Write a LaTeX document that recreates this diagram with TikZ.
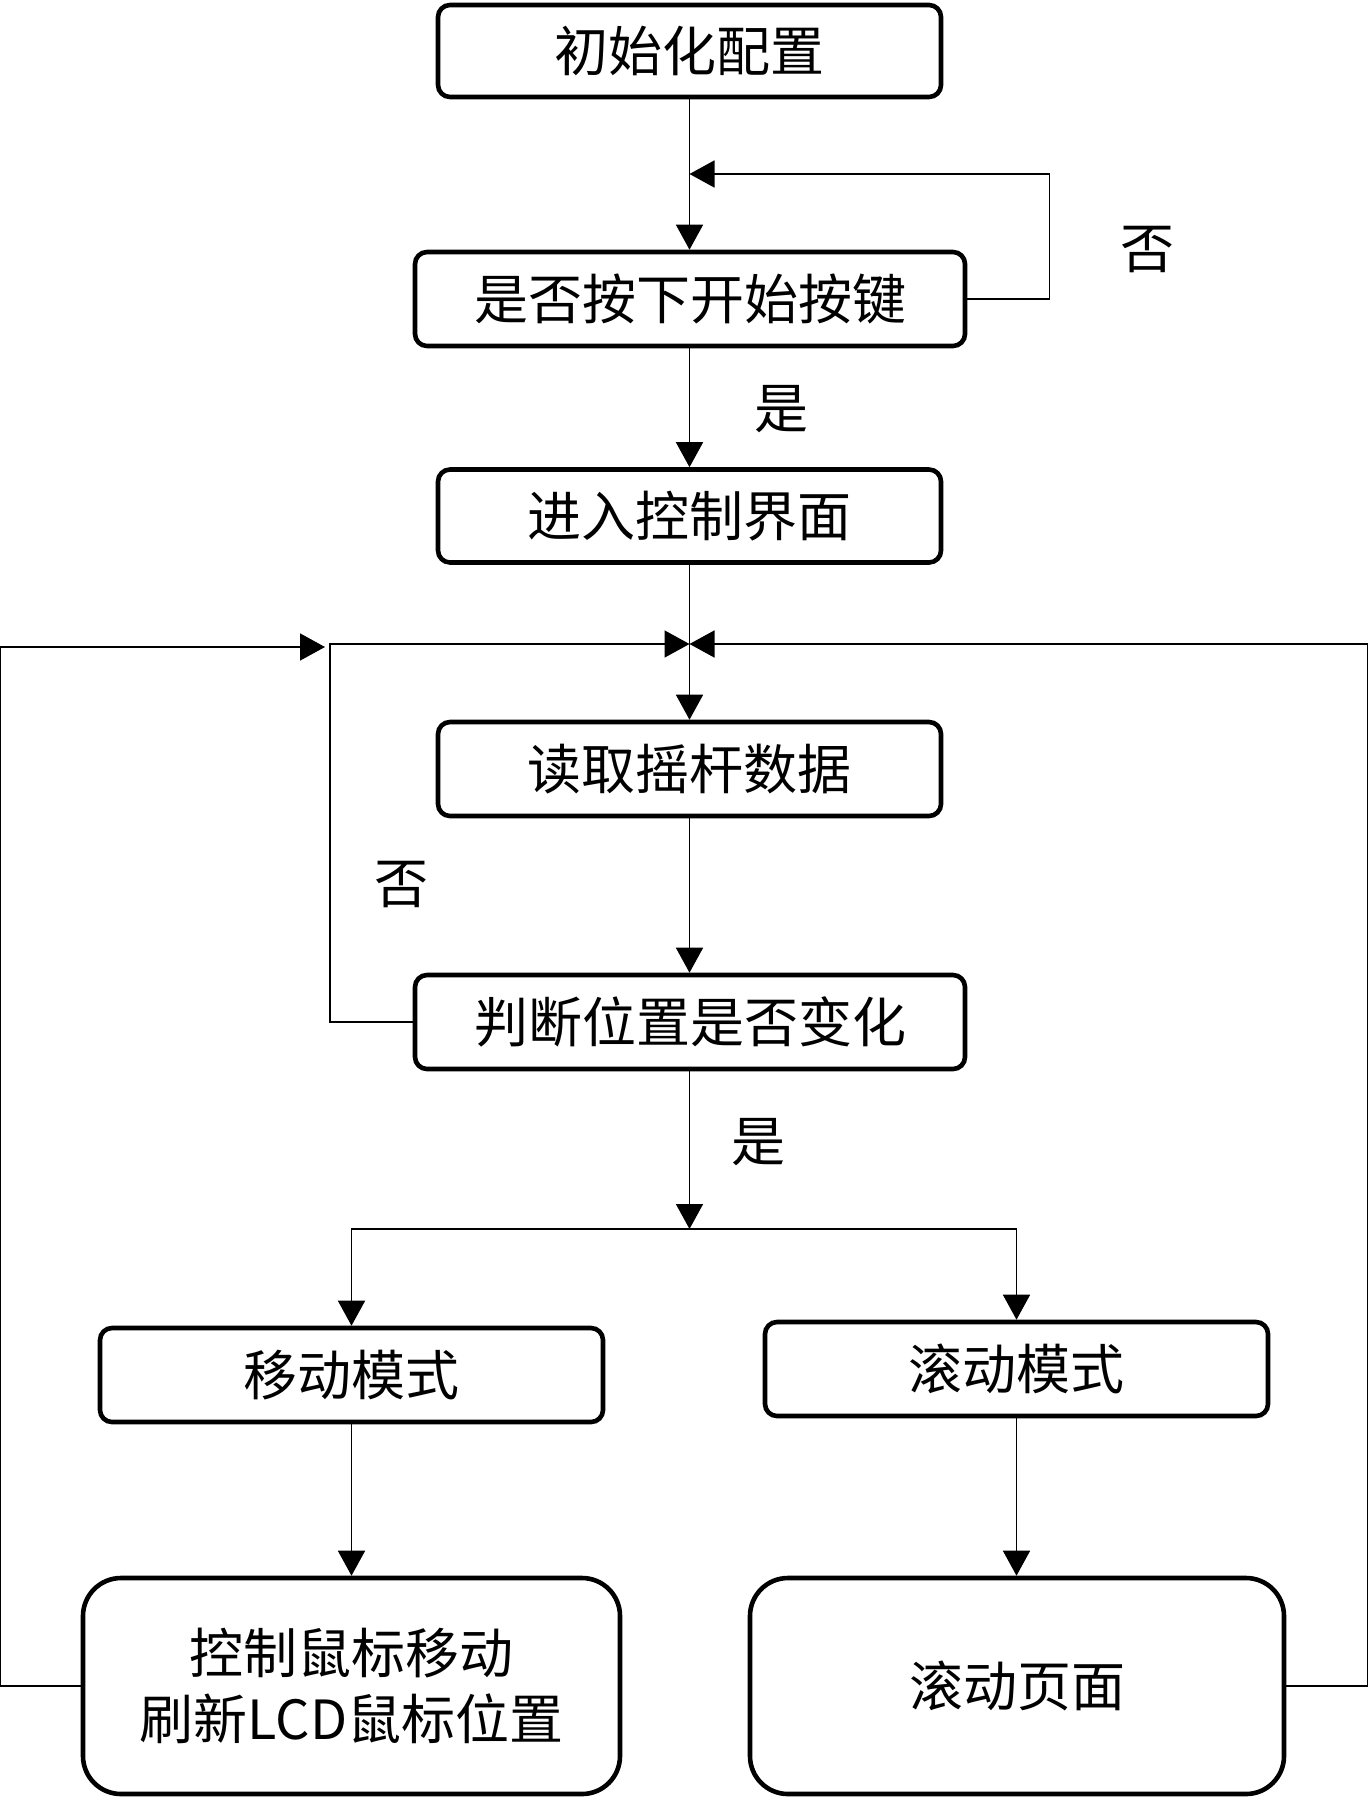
\documentclass[tikz,border=0pt]{standalone}
\usepackage{fontspec}
\setmainfont{Noto Sans CJK SC}
\usetikzlibrary{arrows.meta}
\begin{document}
\begin{tikzpicture}[x=0.5pt,y=-0.5pt,
  txt/.style={font=\fontsize{27}{33}\selectfont},
  box/.style={txt, draw, line width=2.3pt, rounded corners=6pt, inner sep=0pt, align=center},
  bigbox/.style={box, rounded corners=19pt},
  conn/.style={line width=0.8pt},
  arr/.style={conn, -{Triangle[length=12.5pt,width=13.5pt]}}]
\useasboundingbox (0,0) rectangle (1369,1798);
\node[box, minimum width=251.5pt, minimum height=46pt] (b1) at (689.5,51) {初始化配置};
\node[box, minimum width=275pt, minimum height=47pt] (b2) at (690,299) {是否按下开始按键};
\node[box, minimum width=251.5pt, minimum height=46.5pt] (b3) at (689.5,516) {进入控制界面};
\node[box, minimum width=251.5pt, minimum height=47pt] (b4) at (689.5,769) {读取摇杆数据};
\node[box, minimum width=275pt, minimum height=47pt] (b5) at (690,1022) {判断位置是否变化};
\node[box, minimum width=251.5pt, minimum height=47pt] (b6) at (351.5,1375) {移动模式};
\node[box, minimum width=251.5pt, minimum height=47pt] (b7) at (1016.5,1369) {滚动模式};
\node[bigbox, minimum width=268.5pt, minimum height=108pt] (b8) at (351.5,1686) {控制鼠标移动\\刷新LCD鼠标位置};
\node[bigbox, minimum width=267pt, minimum height=108pt] (b9) at (1017,1686) {滚动页面};
\node[txt] (no1) at (1147,250) {否};
\node[txt] (yes1) at (781,409) {是};
\node[txt] (no2) at (401,885) {否};
\node[txt] (yes2) at (758,1142) {是};
\coordinate (t1) at (689.5,174);
\coordinate (j) at (689.5,644);
\coordinate (o) at (325,647);
\coordinate (s) at (689.5,1229);
\draw[arr] (b1.south) -- (b2.north -| b1.south);
\draw[arr] (b2.east) -- ++(82,0) |- (t1);
\draw[arr] (b2.south -| b1.south) -- (b3.north);
\draw[arr] (b3.south) -- (b4.north);
\draw[arr] (b5.west) -- ++(-83,0) |- (j);
\draw[arr] (b9.east) -- ++(81,0) |- (j);
\draw[arr] (b8.west) -- ++(-81,0) |- (o);
\draw[arr] (b4.south) -- (b5.north -| b4.south);
\draw[arr] (b5.south -| b4.south) -- (s);
\draw[arr] (s) -| (b6.north);
\draw[arr] (s) -| (b7.north);
\draw[arr] (b6.south) -- (b8.north);
\draw[arr] (b7.south) -- (b9.north -| b7.south);
\end{tikzpicture}
\end{document}
